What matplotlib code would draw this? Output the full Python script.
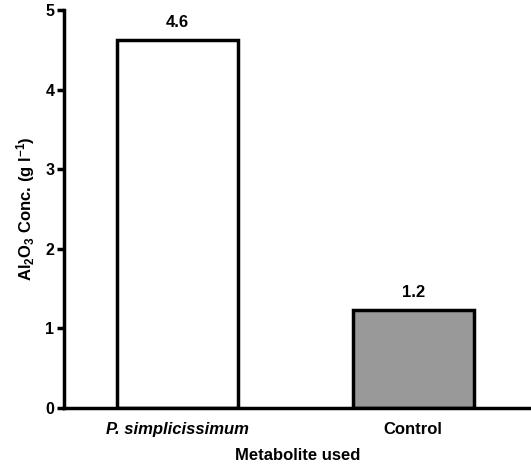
import matplotlib
matplotlib.use("Agg")
import matplotlib.pyplot as plt

categories = ["P. simplicissimum", "Control"]
values = [4.62, 1.23]
value_labels = ["4.6", "1.2"]
bar_colors = ["white", "#999999"]

plt.rcParams["font.family"] = ["Liberation Sans", "DejaVu Sans"]
plt.rcParams["font.weight"] = "bold"
plt.rcParams["mathtext.default"] = "regular"

fig = plt.figure(figsize=(5.31, 4.70), dpi=100)
ax = fig.add_axes([0.1205, 0.132, 0.8795, 0.8467])

x = range(len(categories))
bars = ax.bar(x, values, width=0.513, color=bar_colors, edgecolor="black", linewidth=2.5)

for b, lab in zip(bars, value_labels):
    ax.text(b.get_x() + b.get_width() / 2, b.get_height() + 0.13, lab,
            ha="center", va="bottom", fontsize=12, fontweight="bold")

ax.set_xlim(-0.481, 1.5)
ax.set_ylim(0, 5)
ax.set_yticks([0, 1, 2, 3, 4, 5])
ax.set_xticks(list(x))
ax.set_xticklabels(categories, fontsize=12, fontweight="bold")
ax.get_xticklabels()[0].set_fontstyle("italic")
ax.tick_params(axis="x", length=0, pad=10)
ax.tick_params(axis="y", length=5, width=2.5, labelsize=11.5, pad=2)
for lab in ax.get_yticklabels():
    lab.set_fontweight("bold")

ax.spines["top"].set_visible(False)
ax.spines["right"].set_visible(False)
ax.spines["left"].set_linewidth(2.5)
ax.spines["bottom"].set_linewidth(2.5)

ax.set_xlabel("Metabolite used", fontsize=12, fontweight="bold", labelpad=8)
ax.set_ylabel("Al$_2$O$_3$ Conc. (g l$^{-1}$)", fontsize=12, fontweight="bold", labelpad=6)

fig.savefig("out.png", dpi=100)
